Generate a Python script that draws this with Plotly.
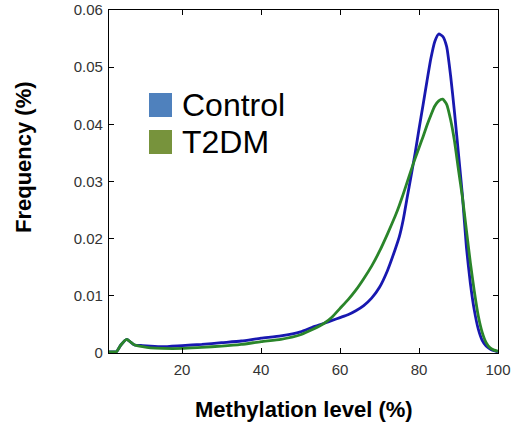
import plotly.graph_objects as go

x_vals = [1.5, 3, 3.5, 4.5, 6, 7, 8, 10, 12, 15, 20, 25, 30, 35, 40, 45, 50, 53, 56, 58,
          60, 62, 64, 66, 68, 70, 72, 74, 75, 76, 77, 78, 79, 80, 81, 82, 83, 84, 85, 86,
          87, 88, 89, 90, 91, 92, 93, 94, 95, 96, 97, 98, 99, 100]

control = [0.0002, 0.0002, 0.0003, 0.0014, 0.0024, 0.0019, 0.0014, 0.0013, 0.0012, 0.0011,
           0.0013, 0.0015, 0.0018, 0.0021, 0.0026, 0.0030, 0.0037, 0.0045, 0.0052, 0.0057,
           0.0062, 0.0067, 0.0074, 0.0083, 0.0096, 0.0115, 0.0144, 0.0182, 0.0203, 0.0233,
           0.0272, 0.0310, 0.0349, 0.0392, 0.0433, 0.0475, 0.0515, 0.0545, 0.0558, 0.0554,
           0.0536, 0.0485, 0.0420, 0.0348, 0.0275, 0.0185, 0.0122, 0.0075, 0.0042, 0.0022,
           0.0012, 0.0007, 0.0004, 0.0002]

t2dm = [0.0002, 0.0002, 0.0003, 0.0014, 0.0024, 0.0019, 0.0014, 0.0011, 0.0009, 0.0008,
        0.0008, 0.0010, 0.0012, 0.0015, 0.0020, 0.0024, 0.0032, 0.0041, 0.0052, 0.0063,
        0.0078, 0.0093, 0.0110, 0.0130, 0.0152, 0.0178, 0.0208, 0.0240, 0.0258, 0.0278,
        0.0299, 0.0320, 0.0340, 0.0359, 0.0378, 0.0398, 0.0416, 0.0432, 0.0441, 0.0444,
        0.0435, 0.0408, 0.0370, 0.0320, 0.0272, 0.0215, 0.0158, 0.0108, 0.0065, 0.0036,
        0.0018, 0.0009, 0.0005, 0.0003]

x_ticks = [20, 40, 60, 80, 100]
y_ticks = [0, 0.01, 0.02, 0.03, 0.04, 0.05, 0.06]
y_tick_text = ["0", "0.01", "0.02", "0.03", "0.04", "0.05", "0.06"]

series_names = ["Control", "T2DM"]
line_colors = ["#1818B0", "#2A852A"]
legend_colors = ["#4F81BD", "#77933C"]

fig = go.Figure()
for name, ys, col in zip(series_names, [control, t2dm], line_colors):
    fig.add_trace(go.Scatter(x=x_vals, y=ys, mode="lines", name=name,
                             line=dict(color=col, width=2.8, shape="spline", smoothing=0.5),
                             showlegend=False))

W, H = 515, 423
L, R, T, B = 109, 17, 10, 70
pw, ph = W - L - R, H - T - B

def px_x(p):
    return (p - L) / pw

def px_y(p):
    return (H - B - p) / ph

FONT = "Liberation Sans, Arial"

# legend drawn as shapes + text
sq_top = [93, 130]
for i, (name, col) in enumerate(zip(series_names, legend_colors)):
    y0 = sq_top[i]
    fig.add_shape(type="rect", xref="paper", yref="paper",
                  x0=px_x(149), x1=px_x(172), y0=px_y(y0 + 24), y1=px_y(y0),
                  fillcolor=col, line=dict(width=0))
    fig.add_annotation(xref="paper", yref="paper", x=px_x(180), y=px_y(y0 + 12),
                       text=name, showarrow=False, xanchor="left", yanchor="middle",
                       font=dict(family=FONT, size=32, color="#000000"))

# axis titles
fig.add_annotation(xref="paper", yref="paper", x=px_x(304), y=px_y(409),
                   text="<b>Methylation level (%)</b>", showarrow=False,
                   xanchor="center", yanchor="middle",
                   font=dict(family=FONT, size=22, color="#000000"))
fig.add_annotation(xref="paper", yref="paper", x=px_x(23), y=px_y(157),
                   text="<b>Frequency (%)</b>", showarrow=False, textangle=-90,
                   xanchor="center", yanchor="middle",
                   font=dict(family=FONT, size=22, color="#000000"))

axis_common = dict(showline=True, linecolor="#000000", linewidth=1.2, mirror="allticks",
                   ticks="inside", ticklen=5, tickcolor="#000000", showgrid=False,
                   zeroline=False, automargin=False,
                   tickfont=dict(family=FONT, size=15, color="#333333"))

fig.update_xaxes(range=[1.5, 100], tickvals=x_ticks, ticklabelstandoff=3, **axis_common)
fig.update_yaxes(range=[0, 0.06], tickvals=y_ticks, ticktext=y_tick_text,
                 ticklabelstandoff=2, **axis_common)

fig.update_layout(width=W, height=H, margin=dict(l=L, r=R, t=T, b=B),
                  plot_bgcolor="white", paper_bgcolor="white")

fig.write_html("out.html", config={"displayModeBar": False},
               post_script="document.body.style.margin='0px';document.body.style.overflow='hidden';")
